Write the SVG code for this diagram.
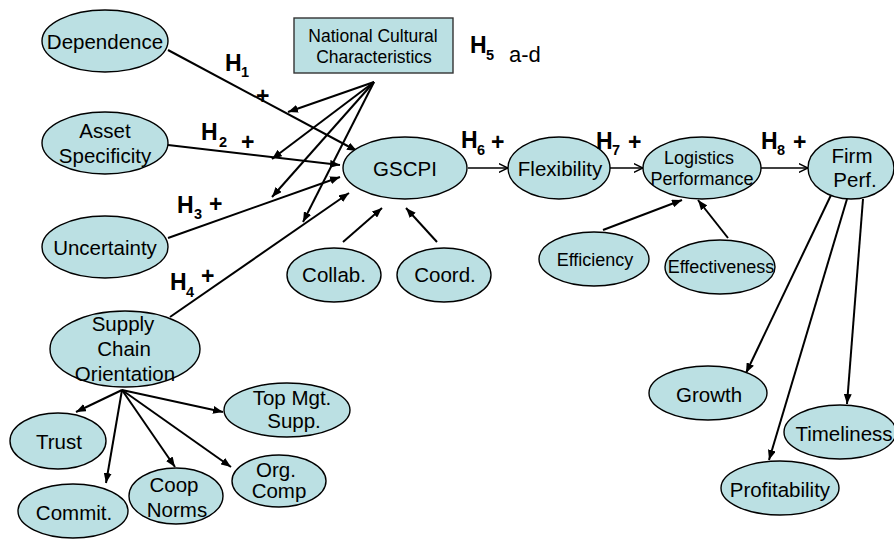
<svg xmlns="http://www.w3.org/2000/svg" width="894" height="539" viewBox="0 0 894 539">
  <defs>
    <style>
      .n ellipse { fill: #BBE0E3; stroke: #000; stroke-width: 1.4; }
      .n rect { fill: #BBE0E3; stroke: #333; stroke-width: 1.4; }
      .n text { font-family: "Liberation Sans", Arial, sans-serif; font-size: 20.5px; fill: #000; text-anchor: middle; }
      .n text.s { font-size: 18px; }
      .n text.ncc { font-size: 17.5px; }
      .c line { stroke: #000; stroke-width: 2; fill: none; marker-end: url(#solid); }
      .c line.t { stroke-width: 1.5; marker-end: url(#open); }
      .lbl text { font-family: "Liberation Sans", Arial, sans-serif; font-weight: bold; fill: #000; }
      .lbl .h { font-size: 23px; }
      .lbl .sub { font-size: 14.5px; }
      .lbl .pl { font-size: 23px; }
      .lbl .ad { font-weight: normal; font-size: 22px; }
    </style>
    <marker id="solid" viewBox="0 0 10 8" refX="10" refY="4" markerWidth="10" markerHeight="8" orient="auto" markerUnits="userSpaceOnUse">
      <path d="M0,0 L10,4 L0,8 z" fill="#000"/>
    </marker>
    <marker id="open" viewBox="0 0 10 10" refX="9.5" refY="5" markerWidth="10" markerHeight="10" orient="auto" markerUnits="userSpaceOnUse">
      <path d="M0,0.5 L9.5,5 L0,9.5" fill="none" stroke="#000" stroke-width="1.5"/>
    </marker>
  </defs>

  <rect width="894" height="539" fill="#fff"/>

  <!-- connectors -->
  <g id="connectors" class="c">
    <!-- antecedents into GSCPI -->
    <line x1="168" y1="50" x2="357" y2="151"/>
    <line x1="168" y1="145" x2="340" y2="165"/>
    <line x1="168" y1="238" x2="340" y2="177"/>
    <line x1="170" y1="317" x2="349" y2="193"/>
    <!-- national culture moderating each path -->
    <line x1="374" y1="82" x2="288" y2="112"/>
    <line x1="374" y1="82" x2="272" y2="159"/>
    <line x1="374" y1="82" x2="272" y2="197"/>
    <line x1="374" y1="82" x2="303" y2="222"/>
    <!-- dimensions of GSCPI -->
    <line x1="343" y1="242" x2="382" y2="208"/>
    <line x1="437" y1="242" x2="406" y2="208"/>
    <!-- main chain -->
    <line class="t" x1="468" y1="168" x2="508" y2="168"/>
    <line class="t" x1="610" y1="168" x2="643" y2="168"/>
    <line class="t" x1="761" y1="168" x2="808" y2="168"/>
    <!-- logistics performance dimensions -->
    <line x1="603" y1="230" x2="682" y2="200"/>
    <line x1="728" y1="238" x2="698" y2="200"/>
    <!-- firm performance dimensions -->
    <line x1="832" y1="193" x2="746" y2="373"/>
    <line x1="847" y1="199" x2="769" y2="460"/>
    <line x1="863" y1="199" x2="847" y2="404"/>
    <!-- supply chain orientation dimensions -->
    <line x1="122" y1="390" x2="76" y2="412"/>
    <line x1="122" y1="390" x2="106" y2="483"/>
    <line x1="122" y1="390" x2="175" y2="467"/>
    <line x1="122" y1="390" x2="231" y2="467"/>
    <line x1="122" y1="390" x2="223" y2="412"/>
  </g>

  <!-- nodes -->
  <g id="ncc" class="n">
    <rect x="294" y="18" width="159" height="55"/>
    <text class="ncc" x="373" y="42">National Cultural</text>
    <text class="ncc" x="374" y="63">Characteristics</text>
  </g>
  <g id="dependence" class="n">
    <ellipse cx="105" cy="41" rx="63" ry="31"/>
    <text x="105" y="49">Dependence</text>
  </g>
  <g id="asset" class="n">
    <ellipse cx="105" cy="143" rx="63" ry="31"/>
    <text x="105" y="138">Asset</text>
    <text x="105" y="163">Specificity</text>
  </g>
  <g id="uncertainty" class="n">
    <ellipse cx="105" cy="247" rx="63" ry="31"/>
    <text x="105" y="255">Uncertainty</text>
  </g>
  <g id="sco" class="n">
    <ellipse cx="125" cy="349" rx="75" ry="38"/>
    <text x="123" y="331">Supply</text>
    <text x="124" y="356">Chain</text>
    <text x="125" y="381">Orientation</text>
  </g>
  <g id="gscpi" class="n">
    <ellipse cx="405" cy="168" rx="62" ry="31"/>
    <text x="405" y="176">GSCPI</text>
  </g>
  <g id="collab" class="n">
    <ellipse cx="334" cy="275" rx="47" ry="27"/>
    <text x="334" y="282">Collab.</text>
  </g>
  <g id="coord" class="n">
    <ellipse cx="444" cy="275" rx="47" ry="27"/>
    <text x="445" y="282">Coord.</text>
  </g>
  <g id="flexibility" class="n">
    <ellipse cx="559" cy="168" rx="51" ry="31"/>
    <text x="560" y="176">Flexibility</text>
  </g>
  <g id="logistics" class="n">
    <ellipse cx="702" cy="168" rx="59" ry="31"/>
    <text class="s" x="699" y="164">Logistics</text>
    <text class="s" x="702" y="185">Performance</text>
  </g>
  <g id="efficiency" class="n">
    <ellipse cx="594" cy="259" rx="55" ry="27"/>
    <text class="s" x="595" y="266">Efficiency</text>
  </g>
  <g id="effectiveness" class="n">
    <ellipse cx="720" cy="267" rx="55" ry="27"/>
    <text class="s" x="721" y="273">Effectiveness</text>
  </g>
  <g id="firm" class="n">
    <ellipse cx="851" cy="168" rx="43" ry="31"/>
    <text x="852" y="163">Firm</text>
    <text x="855" y="187">Perf.</text>
  </g>
  <g id="growth" class="n">
    <ellipse cx="708" cy="393" rx="59" ry="27"/>
    <text x="709" y="402">Growth</text>
  </g>
  <g id="timeliness" class="n">
    <ellipse cx="840" cy="432" rx="56" ry="27"/>
    <text x="844" y="441">Timeliness</text>
  </g>
  <g id="profitability" class="n">
    <ellipse cx="780" cy="488" rx="59" ry="27"/>
    <text x="780" y="497">Profitability</text>
  </g>
  <g id="topmgt" class="n">
    <ellipse cx="287" cy="410" rx="63" ry="27"/>
    <text x="292" y="405">Top Mgt.</text>
    <text x="294" y="428">Supp.</text>
  </g>
  <g id="trust" class="n">
    <ellipse cx="58" cy="441" rx="48" ry="28"/>
    <text x="59" y="449">Trust</text>
  </g>
  <g id="commit" class="n">
    <ellipse cx="73" cy="511" rx="55" ry="27"/>
    <text x="74" y="520">Commit.</text>
  </g>
  <g id="coop" class="n">
    <ellipse cx="176" cy="496" rx="47" ry="28"/>
    <text x="174" y="492">Coop</text>
    <text x="177" y="517">Norms</text>
  </g>
  <g id="orgcomp" class="n">
    <ellipse cx="279" cy="481" rx="47" ry="26"/>
    <text x="276" y="477">Org.</text>
    <text x="279" y="498">Comp</text>
  </g>

  <!-- hypothesis labels -->
  <g id="labels" class="lbl">
    <text class="h" x="225" y="71">H</text><text class="sub" x="241" y="77">1</text>
    <text class="pl" x="256" y="104">+</text>
    <text class="h" x="201" y="140">H</text><text class="sub" x="219" y="147">2</text>
    <text class="pl" x="241" y="150">+</text>
    <text class="h" x="177" y="213">H</text><text class="sub" x="194" y="219">3</text>
    <text class="pl" x="209" y="212">+</text>
    <text class="h" x="170" y="290">H</text><text class="sub" x="186" y="297">4</text>
    <text class="pl" x="201" y="284">+</text>
    <text class="h" x="470" y="53">H</text><text class="sub" x="486" y="60">5</text>
    <text class="ad" x="509" y="62">a-d</text>
    <text class="h" x="461" y="148">H</text><text class="sub" x="477" y="155">6</text>
    <text class="pl" x="491" y="150">+</text>
    <text class="h" x="596" y="149">H</text><text class="sub" x="612" y="155">7</text>
    <text class="pl" x="628" y="150">+</text>
    <text class="h" x="761" y="149">H</text><text class="sub" x="777" y="155">8</text>
    <text class="pl" x="793" y="150">+</text>
  </g>
</svg>
